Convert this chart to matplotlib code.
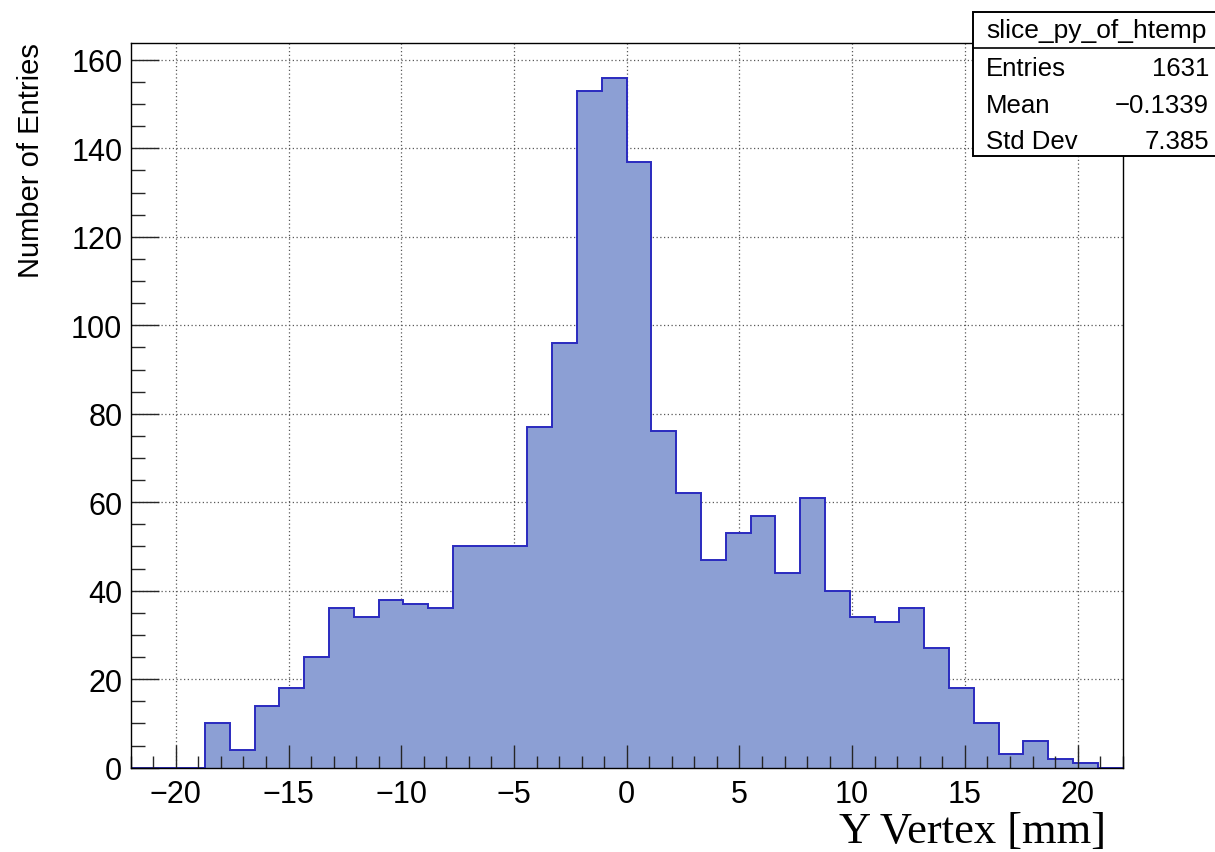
import numpy as np
import matplotlib
matplotlib.use('Agg')
from matplotlib import pyplot as plt
from matplotlib.patches import Rectangle

plt.rcParams['font.family'] = ['Liberation Sans', 'DejaVu Sans']

# histogram: 40 bins from -22 to 22 mm
x_min, x_max, n_bins = -22.0, 22.0, 40
counts = [0, 0, 0,
          10, 4, 14, 18, 25, 36, 34, 38, 37, 36, 50, 50, 50, 77, 96, 153, 156,
          137, 76, 62, 47, 53, 57, 44, 61, 40, 34, 33, 36, 27, 18, 10, 3, 6, 2, 1,
          0]

stat_title = "slice_py_of_htemp"
stat_names = ["Entries", "Mean", "Std Dev"]
stat_values = ["1631", "\u22120.1339", "7.385"]

x_label = "Y Vertex [mm]"
y_label = "Number of Entries"
x_major = [-20, -15, -10, -5, 0, 5, 10, 15, 20]
y_major = [0, 20, 40, 60, 80, 100, 120, 140, 160]

W, H = 1215, 853
fig = plt.figure(figsize=(W / 100, H / 100), dpi=100)
ax = fig.add_axes([130.7 / W, (H - 768.7) / H, (1122.7 - 130.7) / W, (768.7 - 44) / H])

edges = np.linspace(x_min, x_max, n_bins + 1)
ax.stairs(counts, edges, fill=True, color='#8c9fd4', zorder=1)
ax.stairs(counts, edges, color='#2a2abf', linewidth=1.4, zorder=1.2)

ax.set_xlim(x_min, x_max)
ax.set_ylim(0, max(counts) * 1.05)

# dotted grid under the histogram
for v in x_major:
    ax.axvline(v, color='0.35', linestyle=(0, (1, 2)), linewidth=0.9, zorder=0.5)
for v in y_major:
    ax.axhline(v, color='0.35', linestyle=(0, (1, 2)), linewidth=0.9, zorder=0.5)

ax.set_xticks(x_major)
ax.set_xticks(np.arange(-22, 23, 1), minor=True)
ax.set_yticks(y_major)
ax.set_yticks(np.arange(0, 165, 5), minor=True)
ax.tick_params(axis='both', which='both', direction='in', width=1.0, color='0.15',
               labelsize=22, top=False, right=False)
ax.tick_params(axis='x', which='major', length=16.5, pad=8)
ax.tick_params(axis='x', which='minor', length=8.3)
ax.tick_params(axis='y', which='major', length=20.5, pad=6)
ax.tick_params(axis='y', which='minor', length=9.8)
for s in ax.spines.values():
    s.set_linewidth(1.0)

fig.text(31 / W, 1 - 43 / H, y_label, rotation=90, ha='center', va='top', fontsize=21)
fig.text(1106 / W, 1 - 843 / H, x_label, ha='right', va='baseline', fontsize=32,
         family=['Liberation Serif', 'DejaVu Serif'])

# stats box in pixel coordinates
ov = fig.add_axes([0, 0, 1, 1], zorder=5)
ov.set_xlim(0, W)
ov.set_ylim(H, 0)
ov.axis('off')
ov.add_patch(Rectangle((973, 13), 260, 144, facecolor='white', edgecolor='black',
                       linewidth=1.4, clip_on=False))
ov.plot([973, 1233], [49, 49], color='black', linewidth=1.2, clip_on=False)
ov.text(1096, 31, stat_title, ha='center', va='center', fontsize=19)
for i, (name, val) in enumerate(zip(stat_names, stat_values)):
    yy = 69 + i * 36.5
    ov.text(986, yy, name, ha='left', va='center', fontsize=18.5)
    ov.text(1209, yy, val, ha='right', va='center', fontsize=18.5)

fig.savefig('out.png', dpi=100)
plt.close(fig)
